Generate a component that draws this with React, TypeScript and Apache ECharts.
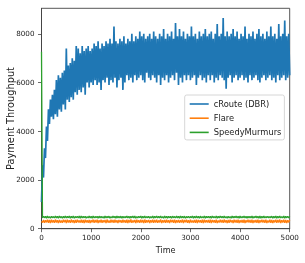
import React, { useEffect, useRef } from "react";
import * as echarts from "echarts";

const TIME_STEP = 20;
const X_TICKS = [0, 1000, 2000, 3000, 4000, 5000];
const Y_TICKS = [0, 2000, 4000, 6000, 8000];
const SERIES_NAMES = ["cRoute (DBR)", "Flare", "SpeedyMurmurs"];

const cRouteValues = [
  1100, 2600, 2100, 3300, 2900, 4200, 3600, 4900, 4300, 5300,
  4600, 5500, 4500, 5700, 4700, 6100, 4600, 6300, 4900, 6200,
  4800, 6400, 5100, 6500, 4900, 7400, 5300, 6700, 5200, 6800,
  5400, 7000, 5300, 6900, 5600, 7500, 5500, 7400, 5700, 7200,
  5600, 7500, 5800, 7300, 5500, 7400, 6000, 7500, 5800, 7300,
  6000, 7400, 5900, 7600, 6100, 7500, 5900, 7700, 6000, 7400,
  5700, 7600, 6100, 7500, 6000, 7700, 6200, 7600, 5900, 7800,
  6100, 7600, 6000, 8300, 6200, 7700, 5800, 7600, 6100, 7800,
  6200, 7700, 5700, 7900, 6000, 7600, 6300, 7800, 6100, 7700,
  6200, 8000, 6000, 7700, 6300, 7900, 6100, 7800, 6200, 8100,
  6300, 7900, 6100, 8000, 6000, 7800, 6400, 7900, 6200, 8000,
  6100, 7800, 6300, 8100, 6200, 7900, 6000, 7800, 6300, 8000,
  5900, 7900, 6200, 8200, 6100, 7800, 6300, 8000, 6000, 7900,
  6200, 8100, 6300, 7800, 6100, 8450, 6400, 7900, 5900, 8200,
  6200, 7900, 6000, 8100, 6300, 7800, 6100, 8000, 6300, 7900,
  6100, 8300, 6200, 7900, 6300, 8000, 5900, 7800, 6200, 8100,
  6300, 7900, 6100, 8000, 6200, 8200, 6000, 7900, 6300, 8000,
  6100, 8100, 6300, 7800, 6000, 8000, 6200, 8400, 6100, 7900,
  6300, 8000, 6200, 8650, 6100, 7900, 5750, 8100, 6200, 7900,
  6300, 8000, 6000, 8200, 6200, 7900, 6300, 8100, 6100, 7800,
  6200, 8000, 6300, 7900, 6100, 8300, 6200, 7800, 6000, 8000,
  6300, 7900, 6100, 8100, 6200, 7800, 6300, 8000, 6100, 8200,
  6000, 7900, 6200, 8000, 6300, 7800, 6100, 8100, 6200, 7900,
  6300, 8300, 6100, 7900, 6200, 8000, 6000, 7800, 6300, 8400,
  6100, 7900, 6200, 8000, 6300, 8550, 6100, 7900, 6200, 8000,
  6300,
];

const flareValues = [
  300, 250, 360, 240, 350, 260, 370, 245, 355, 235,
  365, 250, 345, 240, 375, 255, 350, 230, 360, 250,
  340, 245, 370, 260, 355, 235, 365, 250, 345, 240,
  375, 255, 350, 235, 360, 245, 370, 260, 340, 250,
  365, 240, 355, 230, 370, 255, 345, 245, 360, 235,
  350, 260, 375, 240, 355, 250, 365, 235, 345, 255,
  370, 245, 350, 260, 360, 230, 375, 250, 340, 245,
  365, 255, 355, 240, 370, 250, 345, 235, 360, 260,
  350, 240, 370, 255, 345, 245, 365, 230, 355, 250,
  375, 245, 340, 260, 360, 235, 370, 255, 350, 240,
  365, 250, 355, 230, 375, 245, 345, 260, 360, 235,
  350, 255, 370, 240, 355, 250, 365, 245, 340, 260,
  375, 235, 350, 255, 360, 240, 370, 250, 345, 230,
  365, 260, 355, 245, 370, 235, 350, 255, 360, 240,
  345, 250, 375, 230, 355, 260, 365, 245, 350, 235,
  370, 255, 340, 250, 360, 240, 375, 230, 355, 260,
  350, 245, 365, 235, 370, 255, 345, 250, 360, 240,
  375, 230, 355, 260, 350, 245, 370, 235, 340, 255,
  365, 250, 360, 240, 375, 255, 345, 230, 355, 245,
  370, 260, 350, 235, 365, 250, 355, 240, 375, 230,
  345, 255, 360, 245, 370, 235, 350, 260, 365, 250,
  355, 240, 375, 230, 345, 255, 360, 245, 370, 235,
  350, 260, 365, 250, 355, 240, 375, 235, 340, 255,
  370, 245, 360, 230, 350, 260, 365, 240, 355, 250,
  375, 235, 345, 255, 370, 245, 360, 230, 350, 260,
  355,
];

const speedyValues = [
  7270, 440, 510, 450, 505, 435, 515, 445, 500, 430,
  510, 450, 500, 440, 520, 445, 505, 435, 515, 450,
  500, 430, 510, 445, 520, 440, 505, 450, 515, 435,
  505, 445, 520, 430, 500, 450, 510, 440, 515, 435,
  520, 440, 505, 450, 510, 430, 500, 445, 515, 440,
  505, 435, 520, 445, 500, 450, 510, 430, 515, 440,
  510, 445, 500, 435, 520, 440, 505, 450, 515, 430,
  500, 440, 515, 450, 505, 435, 520, 445, 510, 440,
  515, 430, 505, 445, 500, 450, 520, 440, 510, 435,
  505, 450, 515, 440, 520, 430, 500, 445, 510, 450,
  520, 435, 505, 445, 515, 440, 500, 450, 510, 430,
  500, 445, 520, 435, 505, 450, 515, 440, 510, 445,
  515, 440, 500, 430, 520, 445, 505, 435, 510, 450,
  505, 430, 515, 450, 500, 440, 520, 445, 510, 435,
  520, 445, 505, 440, 515, 430, 500, 450, 510, 440,
  500, 450, 520, 435, 505, 445, 515, 440, 510, 430,
  515, 440, 500, 445, 520, 435, 505, 450, 510, 445,
  505, 435, 515, 450, 500, 440, 520, 430, 510, 445,
  520, 450, 505, 440, 515, 445, 500, 435, 510, 440,
  500, 430, 520, 445, 505, 450, 515, 440, 510, 435,
  515, 445, 500, 450, 520, 440, 505, 430, 510, 445,
  505, 440, 515, 435, 500, 450, 520, 445, 510, 430,
  520, 435, 505, 445, 515, 440, 500, 450, 510, 440,
  500, 450, 515, 430, 505, 445, 520, 435, 510, 445,
  515, 440, 500, 445, 520, 430, 505, 450, 510, 440,
  505,
];

const COLORS = ["#1f77b4", "#ff7f0e", "#2ca02c"];
const LINE_WIDTHS = [1.7, 1.3, 1.3];
const FONT = "DejaVu Sans";

const toPoints = (vals: number[]) => vals.map((v, i) => [i * TIME_STEP, v]);

export default function App() {
  const ref = useRef<HTMLDivElement>(null);
  useEffect(() => {
    if (!ref.current) return;
    const chart = echarts.init(ref.current, null, { renderer: "svg" });
    const allSeries = [cRouteValues, flareValues, speedyValues];
    chart.setOption({
      animation: false,
      textStyle: { fontFamily: FONT },
      grid: {
        left: 41.5,
        right: 15.3,
        top: 8.3,
        bottom: 34.3,
        containLabel: false,
        outerBoundsMode: "none",
        show: true,
        borderColor: "#444",
        borderWidth: 0.9,
        backgroundColor: "transparent",
      },
      legend: {
        data: SERIES_NAMES,
        orient: "vertical",
        left: 184.7,
        top: 95,
        icon: "rect",
        itemWidth: 19,
        itemHeight: 1.6,
        itemGap: 4.2,
        padding: [4, 3, 2.5, 5],
        borderColor: "#cccccc",
        borderWidth: 0.8,
        borderRadius: 2,
        backgroundColor: "rgba(255,255,255,0.85)",
        textStyle: {
          fontFamily: FONT,
          fontSize: 8.3,
          color: "#222",
          lineHeight: 10,
        },
      },
      xAxis: {
        type: "value",
        min: X_TICKS[0],
        max: X_TICKS[X_TICKS.length - 1],
        interval: X_TICKS[1] - X_TICKS[0],
        name: "Time",
        nameLocation: "middle",
        nameGap: 17.5,
        nameMoveOverlap: false,
        nameTextStyle: { fontFamily: FONT, fontSize: 8.1, color: "#222" },
        axisLine: { show: true, lineStyle: { color: "#444", width: 0.9 } },
        axisTick: { show: true, inside: false, length: 3.5, lineStyle: { color: "#444", width: 0.8 } },
        axisLabel: {
          fontFamily: FONT,
          fontSize: 7.2,
          color: "#222",
          margin: 5.5,
          formatter: (v: number) => String(v),
        },
        splitLine: { show: false },
      },
      yAxis: {
        type: "value",
        min: Y_TICKS[0],
        max: 9050,
        interval: Y_TICKS[1] - Y_TICKS[0],
        name: "Payment Throughput",
        nameLocation: "middle",
        nameGap: 26.5,
        nameMoveOverlap: false,
        nameTextStyle: { fontFamily: FONT, fontSize: 9.8, color: "#222" },
        axisLine: { show: true, lineStyle: { color: "#444", width: 0.9 } },
        axisTick: { show: true, inside: false, length: 3.5, lineStyle: { color: "#444", width: 0.8 } },
        axisLabel: {
          fontFamily: FONT,
          fontSize: 7.2,
          color: "#222",
          margin: 7,
          showMaxLabel: false,
          formatter: (v: number) => (Y_TICKS.includes(v) ? String(v) : ""),
        },
        splitLine: { show: false },
      },
      series: SERIES_NAMES.map((name, i) => ({
        name,
        type: "line",
        data: toPoints(allSeries[i]),
        showSymbol: false,
        symbol: "none",
        lineStyle: { color: COLORS[i], width: LINE_WIDTHS[i] },
        itemStyle: { color: COLORS[i] },
        emphasis: { disabled: true },
      })),
    });
    return () => chart.dispose();
  }, []);
  return (
    <div
      ref={ref}
      style={{ position: "fixed", left: 0, top: 0, width: 305, height: 263 }}
    />
  );
}
